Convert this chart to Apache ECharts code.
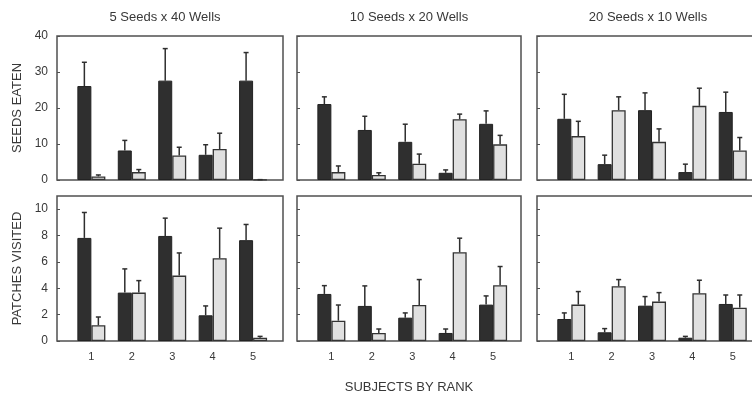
<!DOCTYPE html>
<html>
<head>
<meta charset="utf-8">
<script src="https://cdn.jsdelivr.net/npm/echarts@6/dist/echarts.min.js"></script>
<style>
html,body{margin:0;padding:0;background:#fff;}
#chart{width:752px;height:394px;}
</style>
</head>
<body>
<div id="chart"></div>
<script>
// ---- data ----
const ranks = [1, 2, 3, 4, 5];
const panelTitles = ['5 Seeds x 40 Wells', '10 Seeds x 20 Wells', '20 Seeds x 10 Wells'];
const rowNames = ['SEEDS EATEN', 'PATCHES VISITED'];
const xAxisTitle = 'SUBJECTS BY RANK';
const seedTicks = [0, 10, 20, 30, 40];
const patchTicks = [0, 2, 4, 6, 8, 10];

// Seeds eaten (mean, SE) — dark / light bars
const seeds5x40Dark = [26.1, 8.2, 27.6, 7.0, 27.6];
const seeds5x40DarkSE = [6.6, 2.8, 8.9, 2.8, 7.8];
const seeds5x40Light = [1.0, 2.2, 6.8, 8.6, 0.1];
const seeds5x40LightSE = [0.4, 0.7, 2.3, 4.4, 0.0];
const seeds10x20Dark = [21.1, 13.9, 10.6, 2.0, 15.6];
const seeds10x20DarkSE = [2.0, 3.8, 4.9, 0.8, 3.6];
const seeds10x20Light = [2.2, 1.4, 4.5, 16.9, 9.9];
const seeds10x20LightSE = [1.7, 0.6, 2.7, 1.4, 2.5];
const seeds20x10Dark = [17.0, 4.4, 19.4, 2.2, 18.9];
const seeds20x10DarkSE = [6.8, 2.5, 4.8, 2.2, 5.5];
const seeds20x10Light = [12.2, 19.4, 10.6, 20.6, 8.2];
const seeds20x10LightSE = [4.1, 3.7, 3.6, 4.9, 3.6];

// Patches visited (mean, SE)
const patches5x40Dark = [7.82, 3.67, 7.97, 1.95, 7.65];
const patches5x40DarkSE = [1.93, 1.8, 1.35, 0.71, 1.19];
const patches5x40Light = [1.19, 3.67, 4.96, 6.28, 0.25];
const patches5x40LightSE = [0.63, 0.91, 1.72, 2.28, 0.1];
const patches10x20Dark = [3.57, 2.66, 1.77, 0.61, 2.76];
const patches10x20DarkSE = [0.63, 1.52, 0.36, 0.3, 0.66];
const patches10x20Light = [1.54, 0.61, 2.73, 6.73, 4.23];
const patches10x20LightSE = [1.19, 0.3, 1.93, 1.07, 1.42];
const patches20x10Dark = [1.67, 0.66, 2.68, 0.25, 2.81];
const patches20x10DarkSE = [0.46, 0.28, 0.69, 0.1, 0.68];
const patches20x10Light = [2.76, 4.15, 2.99, 3.62, 2.53];
const patches20x10LightSE = [0.99, 0.51, 0.68, 0.99, 0.96];

// ---- layout / style ----
const FONT = 'Liberation Sans, Arial, sans-serif';
const TXT = '#383838';
const colLeft = [57, 297, 537];
const colWidth = [226, 224, 224];
const colXMax = [5.74, 5.69, 5.70];
const xMin = 0.15;
const rowTop = [36, 196];
const rowHeight = [144, 145];
const rowYMax = [40, 11];
const titleCenters = [165, 409, 648];

const panels = [
  [[seeds5x40Dark, seeds5x40DarkSE, seeds5x40Light, seeds5x40LightSE],
   [seeds10x20Dark, seeds10x20DarkSE, seeds10x20Light, seeds10x20LightSE],
   [seeds20x10Dark, seeds20x10DarkSE, seeds20x10Light, seeds20x10LightSE]],
  [[patches5x40Dark, patches5x40DarkSE, patches5x40Light, patches5x40LightSE],
   [patches10x20Dark, patches10x20DarkSE, patches10x20Light, patches10x20LightSE],
   [patches20x10Dark, patches20x10DarkSE, patches20x10Light, patches20x10LightSE]]
];

const grid = [], xAxis = [], yAxis = [], series = [];
const BW = 14;

function errSeries(idx, means, se, off) {
  return {
    type: 'custom', xAxisIndex: idx, yAxisIndex: idx, silent: true, z: 5,
    data: ranks.map((r, k) => [r, means[k], means[k] + se[k]]),
    renderItem: function (params, api) {
      const p0 = api.coord([api.value(0), api.value(1)]);
      const p1 = api.coord([api.value(0), api.value(2)]);
      const cx = p0[0] + off;
      const st = { stroke: '#2e2e2e', lineWidth: 1.5 };
      return { type: 'group', children: [
        { type: 'line', shape: { x1: cx, y1: p0[1], x2: cx, y2: p1[1] }, style: st },
        { type: 'line', shape: { x1: cx - 2.5, y1: p1[1], x2: cx + 2.5, y2: p1[1] }, style: st }
      ]};
    }
  };
}

for (let row = 0; row < 2; row++) {
  for (let col = 0; col < 3; col++) {
    const idx = row * 3 + col;
    grid.push({
      left: colLeft[col], width: colWidth[col], top: rowTop[row], height: rowHeight[row],
      show: true, borderColor: '#505050', borderWidth: 1.5, backgroundColor: 'transparent',
      containLabel: false, outerBoundsMode: 'none'
    });
    xAxis.push({
      type: 'value', gridIndex: idx, min: xMin, max: colXMax[col],
      axisLine: { show: false }, splitLine: { show: false }, axisTick: { show: false },
      axisLabel: {
        show: row === 1, customValues: ranks, margin: 10,
        color: TXT, fontFamily: FONT, fontSize: 11
      },
      name: (row === 1 && col === 1) ? xAxisTitle : '',
      nameLocation: 'middle', nameGap: 40,
      nameTextStyle: { color: TXT, fontFamily: FONT, fontSize: 13 }
    });
    const ticks = row === 0 ? seedTicks : patchTicks;
    yAxis.push({
      type: 'value', gridIndex: idx, min: 0, max: rowYMax[row],
      axisLine: { show: false }, splitLine: { show: false },
      axisTick: { show: true, inside: true, length: 3, customValues: ticks,
                  lineStyle: { color: '#505050', width: 1 } },
      axisLabel: { show: col === 0, customValues: ticks, margin: 9,
                   color: TXT, fontFamily: FONT, fontSize: 12 },
      name: col === 0 ? rowNames[row] : '',
      nameLocation: 'middle', nameRotate: 90, nameGap: 33,
      nameTextStyle: { color: TXT, fontFamily: FONT, fontSize: 13 }
    });
    const d = panels[row][col];
    series.push({
      type: 'bar', xAxisIndex: idx, yAxisIndex: idx, silent: true,
      barWidth: BW, barGap: '0%',
      data: ranks.map((r, k) => [r, d[0][k]]),
      itemStyle: { color: '#2f2f2f', borderColor: '#222', borderWidth: 1 }
    });
    series.push({
      type: 'bar', xAxisIndex: idx, yAxisIndex: idx, silent: true,
      barWidth: BW, barGap: '0%',
      data: ranks.map((r, k) => [r, d[2][k]]),
      itemStyle: { color: '#e0e0e0', borderColor: '#333', borderWidth: 1.3 }
    });
    series.push(errSeries(idx, d[0], d[1], -BW / 2));
    series.push(errSeries(idx, d[2], d[3], BW / 2));
  }
}

const graphic = titleCenters.map((cx, i) => ({
  type: 'text', x: cx, y: 17, silent: true,
  style: { text: panelTitles[i], fill: TXT, font: '13px ' + FONT,
           textAlign: 'center', textVerticalAlign: 'middle' }
}));

const chart = echarts.init(document.getElementById('chart'), null, { renderer: 'canvas' });
chart.setOption({
  animation: false,
  backgroundColor: '#fff',
  grid: grid,
  xAxis: xAxis,
  yAxis: yAxis,
  series: series,
  graphic: graphic
});
</script>
</body>
</html>
